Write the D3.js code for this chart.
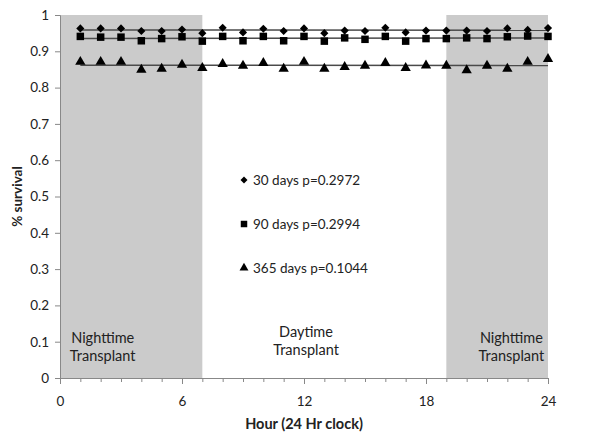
<!DOCTYPE html>
<html>
<head>
<meta charset="utf-8">
<script src="https://cdn.jsdelivr.net/npm/d3@7"></script>
<style>
  body { margin: 0; background: #fff; }
  svg { display: block; font-family: Lato, "Open Sans", sans-serif; }
</style>
</head>
<body>
<svg id="chart" width="600" height="436"></svg>
<script>
// values
const hours = [1, 2, 3, 4, 5, 6, 7, 8, 9, 10, 11, 12, 13, 14, 15, 16, 17, 18, 19, 20, 21, 22, 23, 24];
const days30 = [0.963, 0.963, 0.963, 0.956, 0.956, 0.960, 0.950, 0.965, 0.952, 0.962, 0.956, 0.963,
                0.950, 0.957, 0.956, 0.965, 0.952, 0.957, 0.957, 0.957, 0.956, 0.963, 0.959, 0.964];
const days90 = [0.941, 0.939, 0.939, 0.929, 0.935, 0.940, 0.928, 0.941, 0.929, 0.941, 0.929, 0.941,
                0.928, 0.937, 0.933, 0.941, 0.928, 0.935, 0.935, 0.937, 0.935, 0.940, 0.942, 0.941];
const days365 = [0.871, 0.871, 0.871, 0.849, 0.852, 0.863, 0.854, 0.865, 0.860, 0.868, 0.852, 0.871,
                 0.852, 0.857, 0.860, 0.868, 0.854, 0.861, 0.860, 0.848, 0.860, 0.852, 0.871, 0.879];
const seriesNames = ["30 days p=0.2972", "90 days p=0.2994", "365 days p=0.1044"];
const xTicks = [0, 6, 12, 18, 24];
const yTicks = [0, 0.1, 0.2, 0.3, 0.4, 0.5, 0.6, 0.7, 0.8, 0.9, 1];
const nightBands = [[0, 7], [19, 24]];
const bandLabels = [["Nighttime", "Transplant"], ["Daytime", "Transplant"], ["Nighttime", "Transplant"]];
const bandCenters = [2.1, 12.1, 22.2];

const margin = { top: 15, right: 52, bottom: 58, left: 60 };
const width = 600 - margin.left - margin.right;
const height = 436 - margin.top - margin.bottom;

const x = d3.scaleLinear().domain([0, 24]).range([0, width]);
const y = d3.scaleLinear().domain([0, 1]).range([height, 0]);

const svg = d3.select("#chart");
const chart = svg.append("g").attr("transform", `translate(${margin.left}, ${margin.top})`);

// night shading
chart.selectAll(".band")
  .data(nightBands)
  .enter()
  .append("rect")
  .attr("class", "band")
  .attr("x", (d) => x(d[0]))
  .attr("y", y(1))
  .attr("width", (d) => x(d[1]) - x(d[0]))
  .attr("height", y(0) - y(1))
  .attr("fill", "#cbcbcb");

// axes
const yAxis = chart.append("g")
  .call(d3.axisLeft(y).tickValues(yTicks).tickSize(5).tickPadding(6).tickFormat((d) => d3.format("")(+d.toFixed(1))));
const xMinor = chart.append("g")
  .attr("transform", `translate(0, ${height})`)
  .call(d3.axisBottom(x).tickValues(d3.range(0, 25)).tickSize(4).tickFormat(""));
const xAxis = chart.append("g")
  .attr("transform", `translate(0, ${height})`)
  .call(d3.axisBottom(x).tickValues(xTicks).tickSize(6).tickPadding(12));

[yAxis, xMinor, xAxis].forEach((g) => {
  g.select(".domain").attr("stroke", "#888");
  g.selectAll(".tick line").attr("stroke", "#888");
  g.selectAll("text").attr("font-size", 13.5).attr("fill", "#222").attr("font-family", "Lato, sans-serif");
});

// linear trend lines
function fit(ys) {
  const mx = d3.mean(hours), my = d3.mean(ys);
  const b = d3.sum(hours, (h, i) => (h - mx) * (ys[i] - my)) / d3.sum(hours, (h) => (h - mx) ** 2);
  return [[hours[0], my + b * (hours[0] - mx)], [hours[hours.length - 1], my + b * (hours[hours.length - 1] - mx)]];
}

const allSeries = [
  { values: days30, symbol: d3.symbolDiamond2, size: 42 },
  { values: days90, symbol: d3.symbolSquare, size: 56 },
  { values: days365, symbol: d3.symbolTriangle, size: 46 },
];

const line = d3.line().x((d) => x(d[0])).y((d) => y(d[1]));

allSeries.forEach((s) => {
  chart.append("path")
    .attr("d", line(fit(s.values)))
    .attr("stroke", "#4a4a4a")
    .attr("stroke-width", 1.5)
    .attr("fill", "none");
  chart.append("g")
    .selectAll("path")
    .data(s.values)
    .enter()
    .append("path")
    .attr("transform", (d, i) => `translate(${x(hours[i])}, ${y(d)})`)
    .attr("d", d3.symbol().type(s.symbol).size(s.size))
    .attr("fill", "#000");
});

// legend in the middle of the plot
const legend = chart.append("g").attr("transform", "translate(184, 165)");
seriesNames.forEach((name, i) => {
  const row = legend.append("g").attr("transform", `translate(0, ${i * 44})`);
  row.append("path")
    .attr("d", d3.symbol().type(allSeries[i].symbol).size(allSeries[i].size * 0.75))
    .attr("fill", "#000");
  row.append("text")
    .attr("x", 9)
    .attr("y", 5)
    .attr("font-size", 13.5)
    .attr("fill", "#222")
    .text(name);
});

// band labels
bandLabels.forEach((lines, i) => {
  const t = chart.append("text")
    .attr("x", x(bandCenters[i]))
    .attr("y", i === 1 ? 322 : 328)
    .attr("text-anchor", "middle")
    .attr("font-size", 14.5)
    .attr("fill", "#222");
  lines.forEach((l, j) => t.append("tspan").attr("x", x(bandCenters[i])).attr("dy", j ? 18 : 0).text(l));
});

// axis titles
svg.append("text")
  .attr("x", margin.left + x(12))
  .attr("y", 429)
  .attr("text-anchor", "middle")
  .attr("font-size", 14.5)
  .attr("font-weight", "bold")
  .attr("fill", "#222")
  .text("Hour (24 Hr clock)");

svg.append("text")
  .attr("transform", `translate(22, ${margin.top + y(0.5)}) rotate(-90)`)
  .attr("text-anchor", "middle")
  .attr("font-size", 13.5)
  .attr("font-weight", "bold")
  .attr("fill", "#222")
  .text("% survival");
</script>
</body>
</html>
